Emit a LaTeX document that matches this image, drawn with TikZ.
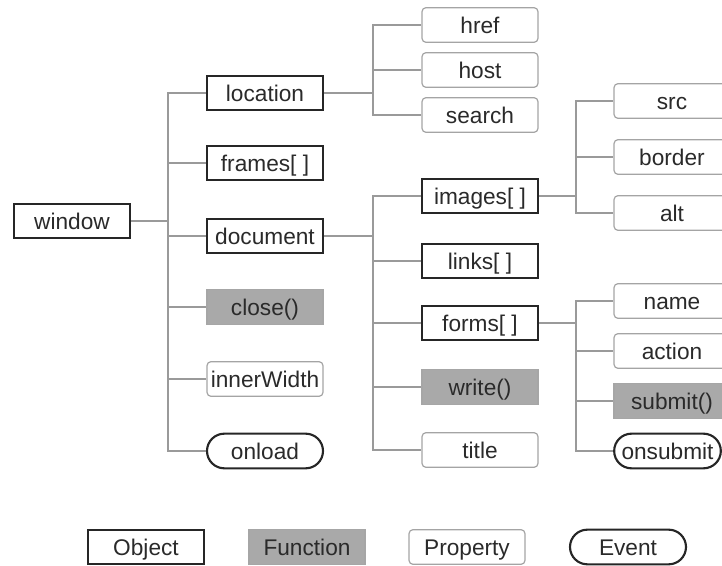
\documentclass[tikz,border=0pt]{standalone}
\usepackage{fontspec}
\setmainfont{Liberation Sans}
\usetikzlibrary{positioning}
\definecolor{linkgray}{HTML}{9A9A9A}
\definecolor{fungray}{HTML}{A9A9A9}
\definecolor{propgray}{HTML}{A4A4A4}
\definecolor{textgray}{HTML}{2A2A2A}
\tikzset{every picture/.style={line width=0.75pt},
  box/.style={minimum width=87pt, minimum height=26pt, inner sep=0pt,
    text height=14pt, text depth=1pt,
    text=textgray, font=\fontsize{17}{20}\selectfont},
  obj/.style={box, draw=black!85, line width=1.6pt, fill=white},
  func/.style={box, draw=black!35, line width=0.8pt, fill=fungray},
  prop/.style={box, draw=propgray, line width=0.9pt, rounded corners=3pt},
  event/.style={box, draw=black!85, line width=1.6pt, rounded corners=13pt},
  link/.style={draw=linkgray, line width=1.3pt}}

\begin{document}
\begin{tikzpicture}[x=0.75pt, y=-0.75pt]
    \useasboundingbox (0,0) rectangle (722,566);
    % window
    \node[obj] (window) at (72,221) {window};
    \node[obj]   (location) at (265,93)  {location};
    \node[obj]   (frames)   at (265,163) {frames[ ]};
    \node[obj]   (document) at (265,236) {document};
    \node[func]  (close)    at (265,307) {close()};
    \node[prop]  (inner)    at (265,379) {innerWidth};
    \node[event] (onload)   at (265,451) {onload};
    \coordinate (jw) at (168,221);
    \draw[link] (window) -- (jw);
    \draw[link] (jw) |- (location);
    \draw[link] (jw) |- (frames);
    \draw[link] (jw) |- (document);
    \draw[link] (jw) |- (close);
    \draw[link] (jw) |- (inner);
    \draw[link] (jw) |- (onload);
    % location
    \node[prop] (href)   at (480,25)  {href};
    \node[prop] (host)   at (480,70)  {host};
    \node[prop] (search) at (480,115) {search};
    \coordinate (jl) at (373,93);
    \draw[link] (location) -- (jl);
    \draw[link] (jl) |- (href);
    \draw[link] (jl) |- (host);
    \draw[link] (jl) |- (search);
    % document
    \node[obj]  (images) at (480,196) {images[ ]};
    \node[obj]  (links)  at (480,261) {links[ ]};
    \node[obj]  (forms)  at (480,323) {forms[ ]};
    \node[func] (write)  at (480,387) {write()};
    \node[prop] (title)  at (480,450) {title};
    \coordinate (jd) at (373,236);
    \draw[link] (document) -- (jd);
    \draw[link] (jd) |- (images);
    \draw[link] (jd) |- (links);
    \draw[link] (jd) |- (forms);
    \draw[link] (jd) |- (write);
    \draw[link] (jd) |- (title);
    % images
    \node[prop] (src)    at (672,101) {src};
    \node[prop] (border) at (672,157) {border};
    \node[prop] (alt)    at (672,213) {alt};
    \coordinate (ji) at (576,196);
    \draw[link] (images) -- (ji);
    \draw[link] (ji) |- (src);
    \draw[link] (ji) |- (border);
    \draw[link] (ji) |- (alt);
    % forms
    \node[prop]  (name)     at (672,301) {name};
    \node[prop]  (action)   at (672,351) {action};
    \node[func]  (submit)   at (672,401) {submit()};
    \node[event, minimum width=80pt] (onsubmit) at (667.5,451) {onsubmit};
    \coordinate (jf) at (576,323);
    \draw[link] (forms) -- (jf);
    \draw[link] (jf) |- (name);
    \draw[link] (jf) |- (action);
    \draw[link] (jf) |- (submit);
    \draw[link] (jf) |- (onsubmit);
    % legend
    \node[obj]   (kobj)  at (146,547) {Object};
    \node[func]  (kfunc) at (307,547) {Function};
    \node[prop]  (kprop) at (467,547) {Property};
    \node[event] (kevt)  at (628,547) {Event};
\end{tikzpicture}
\end{document}
